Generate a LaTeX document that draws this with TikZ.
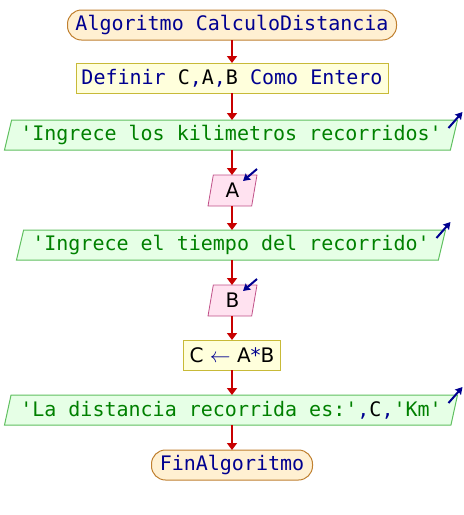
\documentclass[tikz,border=0pt]{standalone}
\usepackage{fontspec}
\setmonofont{DejaVu Sans Mono}
\setsansfont{DejaVu Sans}
\usetikzlibrary{shapes.geometric,arrows.meta}
\definecolor{kw}{HTML}{000090}
\definecolor{str}{HTML}{008000}
\definecolor{flow}{HTML}{C80000}
\definecolor{termfill}{HTML}{FFF0D2}
\definecolor{termdraw}{HTML}{C08030}
\definecolor{procfill}{HTML}{FFFFDC}
\definecolor{procdraw}{HTML}{C8BA38}
\definecolor{outfill}{HTML}{E6FFE6}
\definecolor{outdraw}{HTML}{60C060}
\definecolor{infill}{HTML}{FFE2F0}
\definecolor{indraw}{HTML}{C05088}
\begin{document}
\begin{tikzpicture}[x=1pt,y=-1pt,
  every node/.style={inner sep=0pt,outer sep=0pt,font=\ttfamily\fontsize{20}{20}\selectfont},
  term/.style={draw=termdraw,fill=termfill,line width=1pt,rounded corners=14pt,minimum height=30pt,text=kw},
  proc/.style={draw=procdraw,fill=procfill,line width=1pt,minimum height=30pt},
  outbox/.style={trapezium,trapezium left angle=70,trapezium right angle=110,trapezium stretches body,draw=outdraw,fill=outfill,line width=1pt,minimum height=30pt,text=str},
  inbox/.style={trapezium,trapezium left angle=70,trapezium right angle=110,trapezium stretches body,draw=indraw,fill=infill,line width=0.8pt,minimum height=31pt,minimum width=49pt,font=\sffamily\fontsize{20}{20}\selectfont},
  flowarrow/.style={draw=flow,line width=1.6pt,-{Triangle[length=7pt,width=10pt]}},
  iconarrow/.style={draw=kw,line width=2pt,-{Stealth[length=7pt,width=8pt,inset=1pt]}}
]
\useasboundingbox (0,0) rectangle (464,515);
\node[term,minimum width=329pt] (start) at (232,25) {Algoritmo CalculoDistancia};
\node[proc,minimum width=312pt] (def) at (232,78) {\textcolor{kw}{Definir} C\textcolor{kw}{,}A\textcolor{kw}{,}B \textcolor{kw}{Como Entero}};
\node[outbox,minimum width=453pt] (o1) at (231,135) {'Ingrece los kilimetros recorridos'};
\node[inbox] (ia) at (232.5,190.5) {A};
\node[outbox,minimum width=429pt] (o2) at (231,245) {'Ingrece el tiempo del recorrido'};
\node[inbox] (ib) at (232.5,300.5) {B};
\node[proc,minimum width=97pt,font=\sffamily\fontsize{20}{20}\selectfont] (asg) at (232,355) {C \textcolor{kw}{$\leftarrow$} A\textcolor{kw}{*}B};
\node[outbox,minimum width=453pt] (o3) at (231,410) {'La distancia recorrida es:'\textcolor{kw}{,}\textcolor{black}{C}\textcolor{kw}{,}'Km'};
\node[term,minimum width=161pt] (fin) at (232,465) {FinAlgoritmo};

\draw[flowarrow] (start.south) -- (start.south |- def.north);
\draw[flowarrow] (def.south) -- (def.south |- o1.north);
\draw[flowarrow] (def.south |- o1.south) -- (def.south |- ia.north);
\draw[flowarrow] (def.south |- ia.south) -- (def.south |- o2.north);
\draw[flowarrow] (def.south |- o2.south) -- (def.south |- ib.north);
\draw[flowarrow] (def.south |- ib.south) -- (asg.north);
\draw[flowarrow] (asg.south) -- (asg.south |- o3.north);
\draw[flowarrow] (asg.south |- o3.south) -- (fin.north);

\draw[iconarrow] ([shift={(-9,8)}]o1.top right corner) -- ([shift={(5,-8)}]o1.top right corner);
\draw[iconarrow] ([shift={(-9,8)}]o2.top right corner) -- ([shift={(5,-8)}]o2.top right corner);
\draw[iconarrow] ([shift={(-9,8)}]o3.top right corner) -- ([shift={(5,-8)}]o3.top right corner);
\draw[iconarrow] ([shift={(0,-6)}]ia.top right corner) -- ([shift={(-14,6)}]ia.top right corner);
\draw[iconarrow] ([shift={(0,-6)}]ib.top right corner) -- ([shift={(-14,6)}]ib.top right corner);
\end{tikzpicture}
\end{document}
